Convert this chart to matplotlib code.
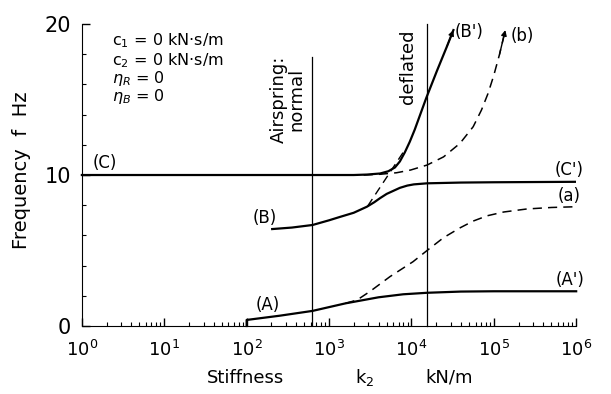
import matplotlib
matplotlib.use("Agg")
import matplotlib.pyplot as plt
import numpy as np
from matplotlib.ticker import FixedLocator, MultipleLocator, NullFormatter

# values: log10(k2) and frequency f (Hz)
a_logk = [2.0, 2.0, 2.4, 2.8, 3.2, 3.6, 3.9, 4.19, 4.6, 5.0, 6.0]
a_f = [0.0, 0.4, 0.68, 1.0, 1.5, 1.9, 2.1, 2.2, 2.28, 2.3, 2.3]

a_dash_logk = [3.2, 3.34, 3.5, 3.74, 4.02, 4.19, 4.39, 4.59, 4.75, 4.92, 5.12, 5.4, 5.7, 6.0]
a_dash_f = [1.5, 1.72, 2.3, 3.27, 4.26, 5.0, 5.85, 6.5, 6.95, 7.3, 7.55, 7.75, 7.85, 7.9]

b_logk = [2.31, 2.55, 2.8, 3.0, 3.13, 3.3, 3.46, 3.55, 3.62, 3.70, 3.78, 3.86,
          3.95, 4.03, 4.19, 4.6, 5.0, 6.0]
b_f = [6.42, 6.52, 6.69, 7.0, 7.22, 7.5, 7.9, 8.2, 8.47, 8.75, 8.95, 9.15,
       9.3, 9.38, 9.45, 9.5, 9.52, 9.55]

c_logk = [0.0, 3.3, 3.46, 3.62, 3.72, 3.80, 3.86, 3.92, 3.98, 4.04, 4.10,
          4.18, 4.31, 4.43, 4.51]
c_f = [10.0, 10.0, 10.03, 10.1, 10.25, 10.5, 10.9, 11.5, 12.2, 13.0, 13.9,
       15.1, 16.9, 18.5, 19.6]

asym_logk = [3.47, 3.90]
asym_f = [7.95, 11.5]

bb_logk = [3.42, 3.62, 3.82, 3.99, 4.19, 4.39, 4.59, 4.75, 4.85, 4.93, 5.0, 5.07, 5.14]
bb_f = [10.0, 10.05, 10.15, 10.33, 10.66, 11.2, 12.1, 13.2, 14.3, 15.4, 16.6, 18.0, 19.6]

k_normal, k_deflated = 630, 1.55e4
decades = [0, 1, 2, 3, 4, 5, 6]
param_lines = [r"c$_1$ = 0 kN$\cdot$s/m", r"c$_2$ = 0 kN$\cdot$s/m",
               r"$\eta_R$ = 0", r"$\eta_B$ = 0"]
param_f = [18.9, 17.6, 16.4, 15.2]

fig = plt.figure(figsize=(6.11, 3.94), dpi=100)
ax = fig.add_axes([0.134, 0.1726, 0.809, 0.7664])

def k(v):
    return np.power(10.0, v)

lw = 1.6
dash = (0, (6, 4))
ax.plot(k(a_logk), a_f, color="k", lw=lw, clip_on=False)
ax.plot(k(a_dash_logk), a_dash_f, color="k", lw=1.1, ls=dash)
ax.plot(k(b_logk), b_f, color="k", lw=lw)
ax.plot(k(c_logk), c_f, color="k", lw=lw, clip_on=False)
ax.plot(k(asym_logk), asym_f, color="k", lw=1.0, ls=dash)
ax.plot(k(bb_logk), bb_f, color="k", lw=1.1, ls=dash, clip_on=False)

# small arrow heads at the top of B' and b
for lx, ly in [(c_logk, c_f), (bb_logk, bb_f)]:
    ax.annotate("", xy=(k(lx[-1]), ly[-1]), xytext=(k(lx[-2]), ly[-2]),
                arrowprops=dict(arrowstyle="-|>", color="k", lw=1.0,
                                mutation_scale=8, shrinkA=0, shrinkB=0),
                annotation_clip=False)

ax.plot([k_normal, k_normal], [0, 17.8], color="k", lw=0.9)
ax.plot([k_deflated, k_deflated], [0, 20], color="k", lw=0.9, clip_on=False)

ax.text(k(2.5), 15.0, "Airspring:\nnormal", rotation=90, ha="center",
        va="center", fontsize=13, multialignment="center", linespacing=1.0)
ax.text(k(3.96), 17.2, "deflated", rotation=90, ha="center", va="center",
        fontsize=13)

for s, y in zip(param_lines, param_f):
    ax.text(k(0.36), y, s, ha="left", va="center", fontsize=11.5)

labels = [("(C)", 0.28, 10.8), ("(C')", 5.92, 10.35), ("(a)", 5.92, 8.6),
          ("(B)", 2.22, 7.15), ("(A)", 2.26, 1.4), ("(A')", 5.92, 3.05),
          ("(B')", 4.70, 19.5), ("(b)", 5.35, 19.2)]
for s, x, y in labels:
    ax.text(k(x), y, s, ha="center", va="center", fontsize=12)

ax.set_xscale("log")
ax.set_xlim(1, 1e6)
ax.set_ylim(0, 20)
ax.spines["top"].set_visible(False)
ax.spines["right"].set_visible(False)
ax.set_xticks(k(decades), [rf"$10^{{{d}}}$" for d in decades])
minor = [m * 10.0 ** d for d in decades[:-1] for m in range(2, 10)]
ax.xaxis.set_minor_locator(FixedLocator(minor))
ax.xaxis.set_minor_formatter(NullFormatter())
ax.set_yticks([0, 10, 20])
ax.yaxis.set_minor_locator(MultipleLocator(2))
ax.tick_params(which="major", direction="in", length=6, width=1.0)
ax.tick_params(which="minor", direction="in", length=3, width=0.8)
ax.tick_params(axis="x", labelsize=13, pad=10)
ax.tick_params(axis="y", labelsize=15, pad=8)

# axis titles placed as in the original scan
fig.text(22 / 611, 1 - 170 / 394, "Frequency  f  Hz", rotation=90,
         ha="center", va="center", fontsize=14)
fig.text(246 / 611, 1 - 378 / 394, "Stiffness", ha="center", va="center", fontsize=13)
fig.text(365 / 611, 1 - 378 / 394, r"k$_2$", ha="center", va="center", fontsize=13)
fig.text(449 / 611, 1 - 378 / 394, "kN/m", ha="center", va="center", fontsize=13)

fig.savefig("out.png", dpi=100)
